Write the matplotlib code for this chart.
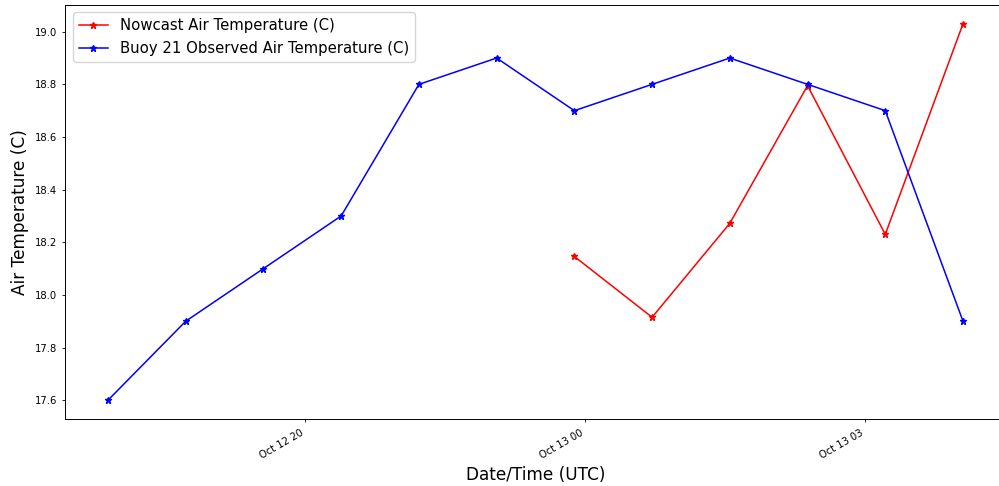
import matplotlib
matplotlib.use("Agg")
import matplotlib.pyplot as plt
import matplotlib.dates as mdates
import pandas as pd

# hourly observation times
times = pd.date_range("2022-10-12 18:00", periods=12, freq="h")

buoy_temp = [17.6, 17.9, 18.1, 18.3, 18.8, 18.9, 18.7, 18.8, 18.9, 18.8, 18.7, 17.9]

nowcast_times = times[6:]
nowcast_temp = [18.146, 17.915, 18.272, 18.795, 18.23, 19.03]

tick_times = pd.to_datetime(["2022-10-12 20:32", "2022-10-13 00:08", "2022-10-13 03:44"])

fig = plt.figure(figsize=(9.99, 4.86), dpi=100)
# right edge of the axes is cut off in the original image
ax = fig.add_axes([65.25 / 999, 1 - 419 / 486, 940.5 / 999, 414 / 486])

ax.plot(nowcast_times, nowcast_temp, color="red", marker="*", lw=1.1, ms=4.5,
        label="Nowcast Air Temperature (C)")
ax.plot(times, buoy_temp, color="blue", marker="*", lw=1.1, ms=4.5,
        label="Buoy 21 Observed Air Temperature (C)")

ax.set_xticks(tick_times)
ax.xaxis.set_major_formatter(mdates.DateFormatter("%b %d %H"))
for lbl in ax.get_xticklabels():
    lbl.set_rotation(30)
    lbl.set_ha("right")
ax.tick_params(labelsize=7.2, length=2.5, width=0.6)
for s in ax.spines.values():
    s.set_linewidth(0.7)

ax.set_xlabel("Date/Time (UTC)", fontsize=12.2)
ax.set_ylabel("Air Temperature (C)", fontsize=12.2)
ax.legend(loc="upper left", fontsize=10.7, handlelength=2.0)

plt.savefig("out.png", dpi=100)
